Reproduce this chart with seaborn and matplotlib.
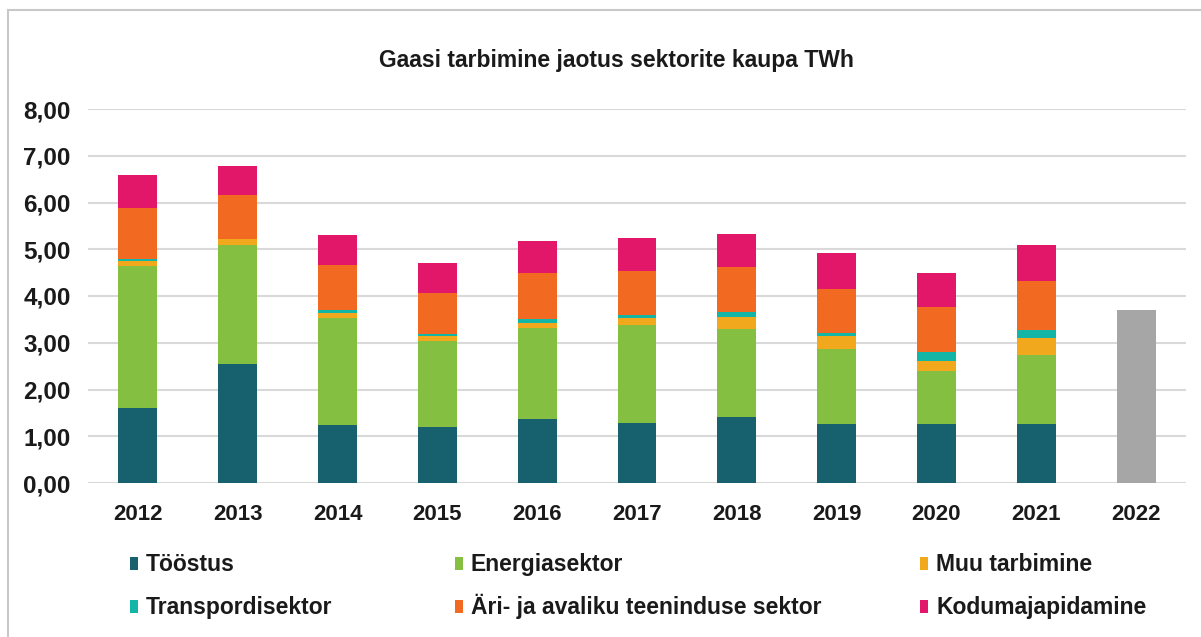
import matplotlib
matplotlib.use("Agg")
import matplotlib.pyplot as plt
from matplotlib.patches import Rectangle
import seaborn as sns
import numpy as np
import pandas as pd

# andmed (TWh), loetud jooniselt
years = ["2012", "2013", "2014", "2015", "2016", "2017", "2018", "2019", "2020", "2021", "2022"]
toostus = [1.61, 2.54, 1.23, 1.20, 1.36, 1.28, 1.41, 1.26, 1.26, 1.27, 0.0]
energia = [3.04, 2.55, 2.31, 1.84, 1.96, 2.11, 1.89, 1.61, 1.14, 1.47, 0.0]
muu = [0.09, 0.12, 0.10, 0.10, 0.11, 0.15, 0.26, 0.28, 0.20, 0.36, 0.0]
transport = [0.05, 0.01, 0.05, 0.04, 0.08, 0.05, 0.10, 0.06, 0.21, 0.17, 0.0]
ari = [1.09, 0.95, 0.97, 0.89, 0.98, 0.95, 0.95, 0.95, 0.96, 1.06, 0.0]
kodu = [0.71, 0.62, 0.64, 0.63, 0.68, 0.71, 0.72, 0.77, 0.73, 0.77, 0.0]
total_2022 = [0, 0, 0, 0, 0, 0, 0, 0, 0, 0, 3.69]

labels = ["Tööstus", "Energiasektor", "Muu tarbimine",
          "Transpordisektor", "Äri- ja avaliku teeninduse sektor", "Kodumajapidamine"]
colors = ["#17606E", "#84BF41", "#F2A81D", "#12B5A6", "#F26A22", "#E3176A"]

sns.set_style("white")
plt.rcParams['font.family'] = ['Liberation Sans', 'DejaVu Sans']
plt.rcParams['font.weight'] = 'bold'

df = pd.DataFrame({"Year": years, "Tööstus": toostus, "Energiasektor": energia,
                   "Muu tarbimine": muu, "Transpordisektor": transport,
                   "Äri- ja avaliku teeninduse sektor": ari, "Kodumajapidamine": kodu})
cum = df[labels].cumsum(axis=1)

W, H = 1201, 637
fig = plt.figure(figsize=(W / 100, H / 100), dpi=100)
ax = fig.add_axes([88 / W, 1 - 483 / H, 1098 / W, 374 / H])

# kuhjatud tulbad: joonistame kumulatiivsed summad ülevalt alla
for lab, col in reversed(list(zip(labels, colors))):
    sns.barplot(x=df["Year"], y=cum[lab], color=col, width=0.39, ax=ax,
                saturation=1, edgecolor="none", zorder=3)
sns.barplot(x=years, y=total_2022, color="#A6A6A6", width=0.39, ax=ax,
            saturation=1, edgecolor="none", zorder=3)

ax.set_ylim(0, 8)
ax.set_xlim(-0.5, 10.5)
ax.set_yticks(np.arange(0, 9, 1))
ax.set_yticklabels([f"{v:.2f}".replace(".", ",") for v in range(9)])
ax.set_xlabel("")
ax.set_ylabel("")
ax.grid(axis="y", color="#D9D9D9", linewidth=1.5, zorder=0)
ax.set_axisbelow(True)
sns.despine(ax=ax, left=True, bottom=True)
ax.tick_params(axis="both", length=0, labelsize=16, colors="#1a1a1a")
ax.tick_params(axis="y", labelsize=17.5, pad=12.5)
ax.tick_params(axis="x", pad=15)

fig.text(0.513, 1 - 61 / H, "Gaasi tarbimine jaotus sektorite kaupa TWh",
         ha="center", va="center", fontsize=16.5, fontweight="bold", color="#1a1a1a")

# legend käsitsi: 3 veergu, 2 rida
leg_x = [130, 455, 920]
leg_y = [564, 607]
for i, (lab, col) in enumerate(zip(labels, colors)):
    x0 = leg_x[i % 3]
    y0 = leg_y[i // 3]
    fig.patches.append(Rectangle((x0 / W, 1 - (y0 + 6) / H), 8 / W, 13 / H,
                                 transform=fig.transFigure, facecolor=col,
                                 edgecolor="none"))
    fig.text((x0 + 16) / W, 1 - (y0 + 7) / H, lab, ha="left", va="baseline",
             fontsize=16.5, fontweight="bold", color="#1a1a1a")

# raam
fig.patches.append(Rectangle((8 / W, -0.05), 1.2, 1 - 10 / H + 0.05,
                             transform=fig.transFigure, fill=False,
                             edgecolor="#C8C8C8", linewidth=1.5))

fig.savefig("out.png", dpi=100)
